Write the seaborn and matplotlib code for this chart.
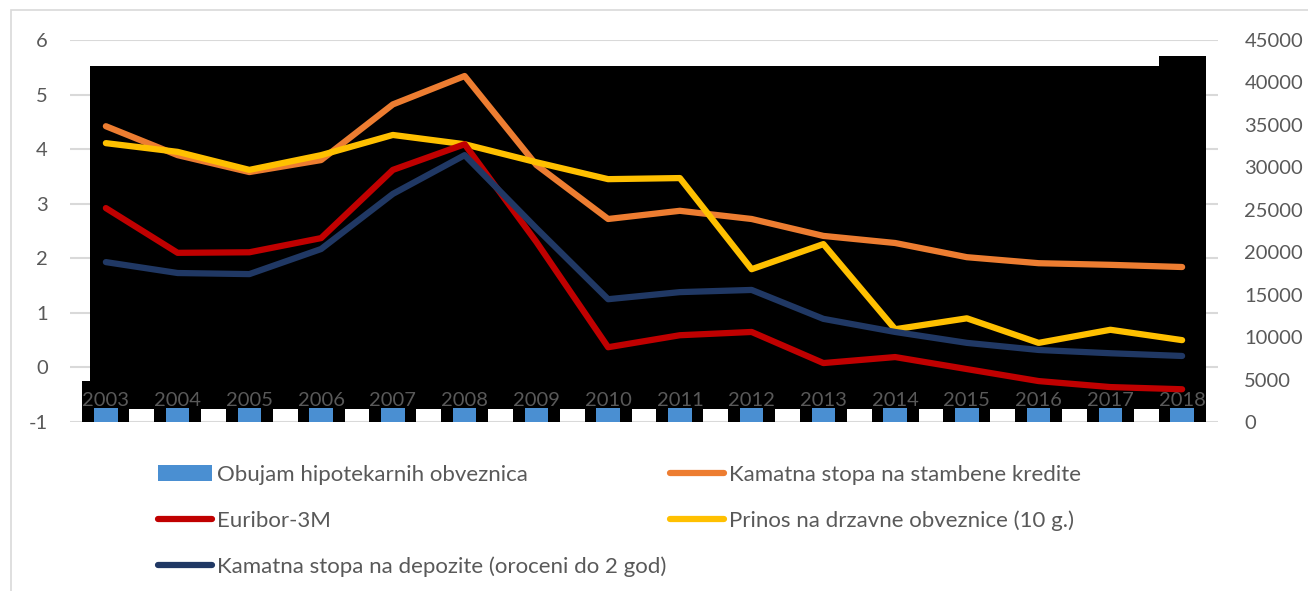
import numpy as np
import pandas as pd
import matplotlib
matplotlib.use("Agg")
import matplotlib.pyplot as plt
from matplotlib.patches import Rectangle, Patch
from matplotlib.lines import Line2D
import seaborn as sns

# ---- data -------------------------------------------------------------
years = [2003, 2004, 2005, 2006, 2007, 2008, 2009, 2010,
         2011, 2012, 2013, 2014, 2015, 2016, 2017, 2018]

# volume of covered (mortgage) bonds, right axis
obujam = [4800, 41900, 41900, 41900, 41900, 41900, 41900, 41900,
          41900, 41900, 41900, 41900, 41900, 41900, 41900, 43100]

# rates in %, left axis
stambeni = [4.42, 3.89, 3.58, 3.80, 4.82, 5.34, 3.71, 2.72,
            2.87, 2.72, 2.41, 2.28, 2.02, 1.91, 1.88, 1.84]
euribor = [2.92, 2.10, 2.11, 2.37, 3.62, 4.09, 2.30, 0.37,
           0.59, 0.65, 0.08, 0.19, -0.03, -0.25, -0.36, -0.40]
prinos = [4.11, 3.95, 3.62, 3.89, 4.26, 4.09, 3.76, 3.45,
          3.47, 1.80, 2.26, 0.70, 0.90, 0.45, 0.69, 0.50]
depoziti = [1.93, 1.73, 1.71, 2.17, 3.18, 3.89, 2.55, 1.25,
            1.38, 1.42, 0.89, 0.65, 0.45, 0.32, 0.26, 0.21]

left_ticks = [-1, 0, 1, 2, 3, 4, 5, 6]
right_ticks = [0, 5000, 10000, 15000, 20000, 25000, 30000, 35000, 40000, 45000]

labels = {
    "obujam": "Obujam hipotekarnih obveznica",
    "stambeni": "Kamatna stopa na stambene kredite",
    "euribor": "Euribor-3M",
    "prinos": "Prinos na drzavne obveznice (10 g.)",
    "depoziti": "Kamatna stopa na depozite (oroceni do 2 god)",
}
colors = {
    "obujam": "#4a8fd2",
    "stambeni": "#ed7d31",
    "euribor": "#c00000",
    "prinos": "#ffc000",
    "depoziti": "#203864",
}

# ---- style ------------------------------------------------------------
sns.set_theme(style="white")
plt.rcParams["font.family"] = ["Lato", "DejaVu Sans"]
TXT = "#595959"
FS_TICK = 14.5
FS_LEG = 16

fig = plt.figure(figsize=(13.08, 5.91), dpi=100)
pos = [70 / 1308, 1 - 422 / 591, (1218 - 70) / 1308, (422 - 40) / 591]

# bottom layer: left-axis grid and tick labels
ax = fig.add_axes(pos)
# middle layer: bars on the right axis
ax2 = ax.twinx()
# top layer: rate lines and category labels
ax3 = ax.twinx()

ax.set_zorder(0)
ax2.set_zorder(1)
ax3.set_zorder(2)
for a in (ax2, ax3):
    a.patch.set_visible(False)

xlim = (years[0] - 0.5, years[-1] + 0.5)
for a in (ax, ax2, ax3):
    a.set_xlim(*xlim)
    for s in a.spines.values():
        s.set_visible(False)

# left axis with gridlines
ax.set_ylim(left_ticks[0], left_ticks[-1])
ax.set_yticks(left_ticks)
ax.set_yticklabels([str(t) for t in left_ticks], fontsize=FS_TICK, color=TXT)
ax.yaxis.grid(True, color="#d9d9d9", linewidth=1.5)
ax.xaxis.grid(False)
ax.tick_params(axis="y", length=0, pad=16)
ax.tick_params(axis="x", length=0, labelbottom=False)

# right axis with volume bars
ax2.set_ylim(right_ticks[0], right_ticks[-1])
df_bar = pd.DataFrame({"year": years, "obujam": obujam})
inner = max(obujam[1:-1])
ax2.add_patch(Rectangle((years[0] - 0.22, 1530), (years[-2] + 0.68) - (years[0] - 0.22),
                        inner - 1530, facecolor="black", edgecolor="none", zorder=0.5))
sns.barplot(data=df_bar, x="year", y="obujam", ax=ax2, native_scale=True,
            color="black", width=0.655, saturation=1, edgecolor="none", zorder=1)
band = np.minimum(np.array(obujam), 1650)
sns.barplot(x=years, y=band, ax=ax2, native_scale=True,
            color=colors["obujam"], width=0.33, saturation=1, edgecolor="none", zorder=2)
ax2.set_yticks(right_ticks)
ax2.set_yticklabels([str(t) for t in right_ticks], fontsize=FS_TICK, color=TXT)
ax2.tick_params(axis="y", length=0, pad=19)
ax2.tick_params(axis="x", length=0, labelbottom=False)
ax2.set_xlabel("")
ax2.set_ylabel("")
ax2.grid(False)
ax2.set_xlim(*xlim)

# rate lines on the left scale
ax3.set_ylim(left_ticks[0], left_ticks[-1])
df_lines = pd.DataFrame({"year": years, "stambeni": stambeni, "euribor": euribor,
                         "prinos": prinos, "depoziti": depoziti})
long = df_lines.melt(id_vars="year", var_name="serija", value_name="stopa")
sns.lineplot(data=long, x="year", y="stopa", hue="serija",
             hue_order=["stambeni", "prinos", "euribor", "depoziti"],
             palette=colors, linewidth=4.5, legend=False, ax=ax3,
             solid_capstyle="round", solid_joinstyle="round")
ax3.set_yticks([])
ax3.set_xlabel("")
ax3.set_ylabel("")
ax3.grid(False)
ax3.xaxis.set_visible(True)
ax3.spines["bottom"].set_position(("data", 0))
ax3.set_xticks(years)
ax3.set_xticklabels([str(y) for y in years], fontsize=FS_TICK, color=TXT)
ax3.tick_params(axis="x", length=0, pad=17.5, labelbottom=True, bottom=False)
ax3.set_xlim(*xlim)

# legend in two blocks
def line_handle(key):
    return Line2D([0], [0], color=colors[key], linewidth=4.5, solid_capstyle="round")

leg_kw = dict(frameon=False, fontsize=FS_LEG, labelcolor=TXT, handlelength=2.45,
              handletextpad=0.22, labelspacing=1.15, borderaxespad=0, borderpad=0)
h1 = [Patch(facecolor=colors["obujam"], edgecolor="none"),
      line_handle("euribor"), line_handle("depoziti")]
l1 = [labels["obujam"], labels["euribor"], labels["depoziti"]]
leg1 = fig.legend(h1, l1, loc="upper left", bbox_to_anchor=(158 / 1308, 1 - 465 / 591), **leg_kw)
h2 = [line_handle("stambeni"), line_handle("prinos")]
l2 = [labels["stambeni"], labels["prinos"]]
leg2 = fig.legend(h2, l2, loc="upper left", bbox_to_anchor=(670 / 1308, 1 - 465 / 591), **leg_kw)

# chart frame
fig.patches.append(Rectangle((11 / 1308, -0.05), 1.1, 1 - 10 / 591 + 0.05,
                             transform=fig.transFigure, fill=False,
                             edgecolor="#d9d9d9", linewidth=1.2))

fig.savefig("out.png", dpi=100)
